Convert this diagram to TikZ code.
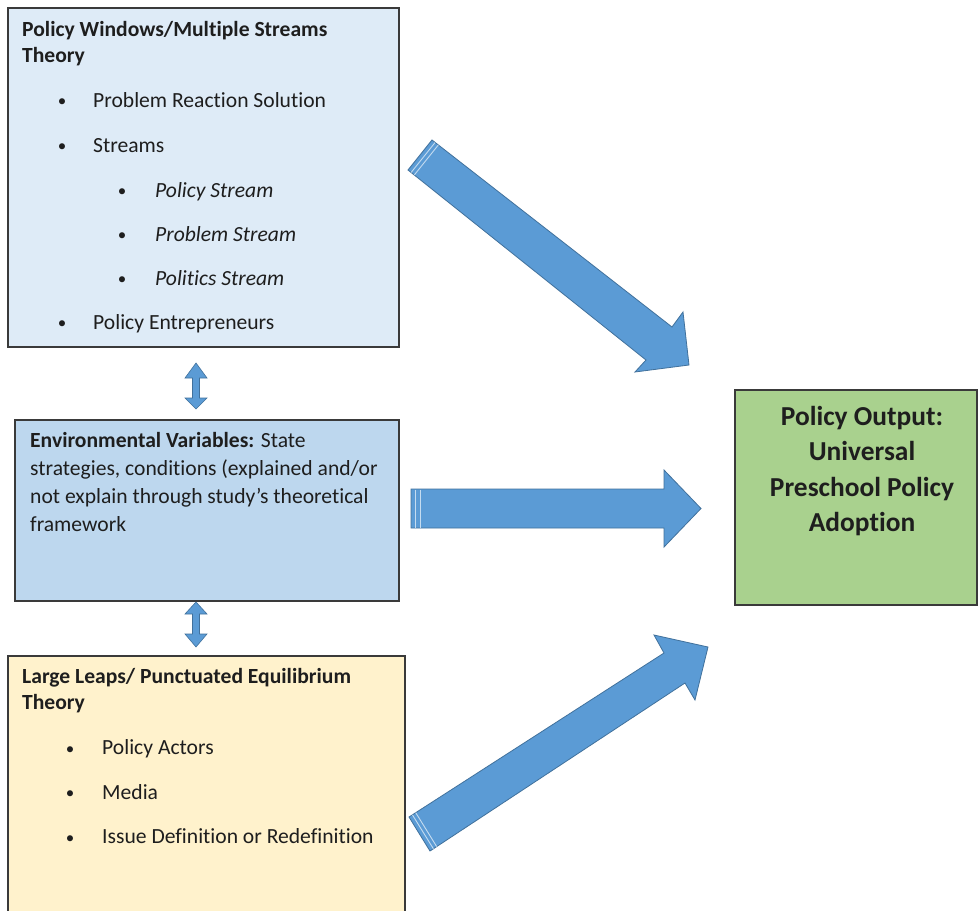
\documentclass[tikz,border=0pt]{standalone}
\usepackage{fontspec}
\setmainfont{Carlito}[Ligatures={NoCommon,NoContextual}]
\definecolor{boxA}{HTML}{DEEBF7}
\definecolor{boxB}{HTML}{BDD7EE}
\definecolor{boxC}{HTML}{FFF2CC}
\definecolor{boxD}{HTML}{A9D18E}
\definecolor{arrowfill}{HTML}{5B9BD5}
\definecolor{arrowedge}{HTML}{41719C}
\definecolor{edgegray}{HTML}{3A3A3A}
\definecolor{txt}{HTML}{1E1E1E}
\tikzset{
  panel/.style={draw=edgegray, line width=1.3pt},
  blockarrow/.style={fill=arrowfill, draw=arrowedge, line width=0.8pt, line join=miter},
  stripe/.style={draw=white, opacity=0.65, line width=0.9pt},
  txtline/.style={anchor=base west, inner sep=0pt, text=txt, font=\fontsize{21.6}{26}\selectfont},
  bul/.style={anchor=base, inner sep=0pt, text=txt, font=\fontsize{17}{20}\selectfont},
  outline/.style={anchor=base, inner sep=0pt, text=txt, font=\fontsize{27.4}{35}\selectfont\bfseries}
}
\begin{document}
\begin{tikzpicture}[x=1pt,y=-1pt]
\useasboundingbox (0,0) rectangle (978,911);
\clip (0,0) rectangle (978,911);
\fill[white] (0,0) rectangle (978,911);

% panels
\draw[panel, fill=boxA] (8,8) rectangle (399,347);
\draw[panel, fill=boxB] (15,420) rectangle (399,601);
\draw[panel, fill=boxC] (8,656) rectangle (405,930);
\draw[panel, fill=boxD] (735,390) rectangle (977,605);

% panel 1 text
\node[txtline] (t1a) at (22,36) {\bfseries Policy Windows/Multiple Streams};
\node[txtline] (t1b) at (22,62) {\bfseries Theory};
\node[bul] (b11) at (62,106.5) {•};
\node[txtline] (i11) at (93,107) {Problem Reaction Solution};
\node[bul] (b12) at (62,151.5) {•};
\node[txtline] (i12) at (93,152) {Streams};
\node[bul] (b13) at (122,196.5) {•};
\node[txtline] (i13) at (155,197) {\itshape Policy Stream};
\node[bul] (b14) at (122,240.5) {•};
\node[txtline] (i14) at (155,241) {\itshape Problem Stream};
\node[bul] (b15) at (122,284.5) {•};
\node[txtline] (i15) at (155,285) {\itshape Politics Stream};
\node[bul] (b16) at (62,328.5) {•};
\node[txtline] (i16) at (93,329) {Policy Entrepreneurs};

% panel 2 text
\node[txtline] (e1) at (30,447) {\bfseries Environmental Variables:\mdseries{} State};
\node[txtline] (e2) at (30,475) {strategies, conditions (explained and/or};
\node[txtline] (e3) at (30,503) {not explain through study’s theoretical};
\node[txtline] (e4) at (30,531) {framework};

% panel 3 text
\node[txtline] (t3a) at (22,683) {\bfseries Large Leaps/ Punctuated Equilibrium};
\node[txtline] (t3b) at (22,709) {\bfseries Theory};
\node[bul] (b31) at (70,754) {•};
\node[txtline] (i31) at (102,754.5) {Policy Actors};
\node[bul] (b32) at (70,798.5) {•};
\node[txtline] (i32) at (102,799) {Media};
\node[bul] (b33) at (70,843) {•};
\node[txtline] (i33) at (102,843.5) {Issue Definition or Redefinition};

% output panel text
\node[outline] (o1) at (862,425.5) {Policy Output:};
\node[outline] (o2) at (862,460.5) {Universal};
\node[outline] (o3) at (862,496) {Preschool Policy};
\node[outline] (o4) at (862,531.5) {Adoption};

% upper block arrow
\coordinate (uT1) at (432,140); \coordinate (uT2) at (408,170);
\coordinate (uN1) at (672,327); \coordinate (uN2) at (646,360);
\coordinate (uB1) at (683,312); \coordinate (uB2) at (635,372);
\coordinate (uTip) at (689,365);
\draw[blockarrow] (uT1) -- (uN1) -- (uB1) -- (uTip) -- (uB2) -- (uN2) -- (uT2) -- cycle;
\draw[stripe] (435.1,142.5) -- (411.1,172.5);
\draw[stripe] (438.3,145.0) -- (414.3,175.0);

% middle block arrow
\coordinate (mT1) at (411,489); \coordinate (mT2) at (411,528);
\coordinate (mN1) at (664,489); \coordinate (mN2) at (664,528);
\coordinate (mB1) at (664,470); \coordinate (mB2) at (664,547);
\coordinate (mTip) at (701,508.5);
\draw[blockarrow] (mT1) -- (mN1) -- (mB1) -- (mTip) -- (mB2) -- (mN2) -- (mT2) -- cycle;
\draw[stripe] (415,489.5) -- (415,527.5);
\draw[stripe] (420,489.5) -- (420,527.5);

% lower block arrow
\coordinate (lT1) at (409,817); \coordinate (lT2) at (430,851);
\coordinate (lN1) at (664,653); \coordinate (lN2) at (685,683);
\coordinate (lB1) at (654,635); \coordinate (lB2) at (695,700);
\coordinate (lTip) at (708,647);
\draw[blockarrow] (lT1) -- (lN1) -- (lB1) -- (lTip) -- (lB2) -- (lN2) -- (lT2) -- cycle;
\draw[stripe] (412.4,814.8) -- (433.4,848.8);
\draw[stripe] (415.7,812.6) -- (436.7,846.6);

% double arrows
\draw[blockarrow, line width=0.6pt] (196,363) -- (207,378) -- (199.5,378) -- (199.5,398) -- (207,398) -- (196,409)
  -- (185,398) -- (192.5,398) -- (192.5,378) -- (185,378) -- cycle;
\draw[blockarrow, line width=0.6pt] (196,602) -- (207,614) -- (199.5,614) -- (199.5,634) -- (207,634) -- (196,647)
  -- (185,634) -- (192.5,634) -- (192.5,614) -- (185,614) -- cycle;
\end{tikzpicture}
\end{document}
